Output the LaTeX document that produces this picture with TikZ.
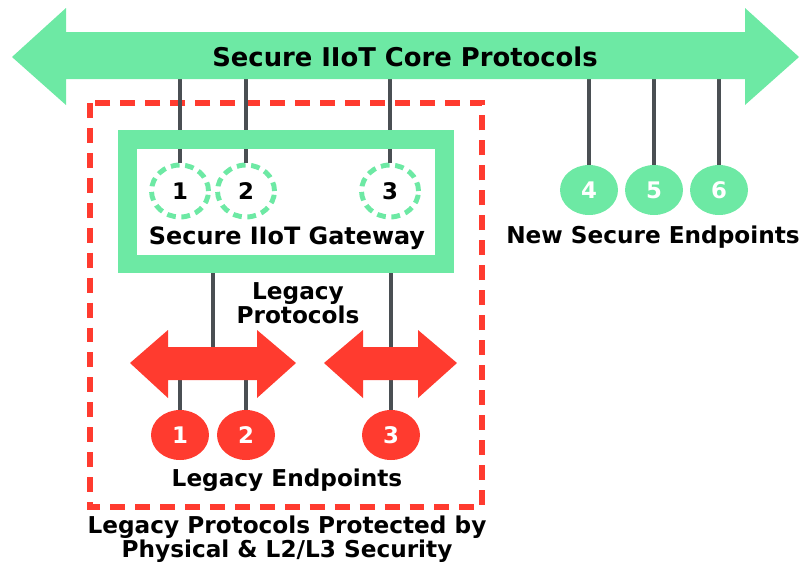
\documentclass[tikz,border=0pt]{standalone}
\usepackage{fontspec}
\setmainfont{DejaVu Sans}
\usetikzlibrary{positioning,shapes.geometric}
\definecolor{iotgreen}{HTML}{6DE9A4}
\definecolor{legred}{HTML}{FF3B2F}
\definecolor{wiregray}{HTML}{4A4F53}
\tikzset{
  lbl/.style={font=\fontsize{13.2}{12.5}\selectfont\bfseries, inner sep=0pt},
  num/.style={font=\fontsize{13}{13}\selectfont\bfseries},
  wire/.style={draw=wiregray, line width=2.3pt},
  gport/.style={num, ellipse, draw=iotgreen, line width=2.8pt,
    dash pattern=on 5pt off 3.2pt, minimum width=1.14cm, minimum height=1.04cm,
    inner sep=0pt},
  newport/.style={num, ellipse, fill=iotgreen, text=white,
    minimum width=1.16cm, minimum height=1cm, inner sep=0pt},
  oldport/.style={num, ellipse, fill=legred, text=white,
    minimum width=1.16cm, minimum height=1cm, inner sep=0pt},
  gateframe/.style={draw=iotgreen, line width=10.8pt,
    minimum width=6.36cm, minimum height=2.5cm, inner sep=0pt},
  zone/.style={draw=legred, line width=3.6pt, dash pattern=on 8.5pt off 5.7pt}
}
\begin{document}
\begin{tikzpicture}[x=0.02cm,y=-0.02cm]
\useasboundingbox (0,0) rectangle (803,565);
% shaft edges of the arrows
\coordinate (coreb) at (0,79);
\coordinate (ltop) at (0,347);
\coordinate (lbot) at (0,380);
% protected zone
\draw[zone] (90,103) rectangle (482,507);
% ports of the gateway
\node[gport] (g1) at (180,191) {1};
\node[gport] (g2) at (246,191) {2};
\node[gport] (g3) at (390,191) {3};
% new secure endpoints
\node[newport] (n4) at (589,190) {4};
\node[newport] (n5) at (654,190) {5};
\node[newport] (n6) at (719,190) {6};
% legacy endpoints
\node[oldport] (r1) at (180,435) {1};
\node[oldport] (r2) at (246,435) {2};
\node[oldport] (r3) at (391,435) {3};
\coordinate (lin) at (213,0);
% wires
\foreach \p in {g1,g2,g3,n4,n5,n6}
  \draw[wire] (\p) -- (\p |- coreb);
\foreach \p in {r1,r2}
  \draw[wire] (\p) -- (\p |- lbot);
\node[gateframe] (gw) at (286,201.5) {};
\draw[wire] (gw.south -| lin) -- (lin |- ltop);
\draw[wire] (gw.south -| r3) -- (r3);
% core protocols
\fill[iotgreen] (12,57) -- (66,8) -- (66,32) -- (745,32) -- (745,8) -- (799,57)
  -- (745,105) -- (745,79) -- (66,79) -- (66,105) -- cycle;
% legacy protocols
\fill[legred] (130,363) -- (168,330) -- (168,347) -- (257,347) -- (257,330)
  -- (296,363) -- (257,398) -- (257,380) -- (168,380) -- (168,398) -- cycle;
\fill[legred] (324,363) -- (363,330) -- (363,347) -- (418,347) -- (418,330)
  -- (457,363) -- (418,398) -- (418,380) -- (363,380) -- (363,398) -- cycle;
% labels
\node[lbl, font=\fontsize{14.7}{14}\selectfont\bfseries] (coretxt) at (405,57)
  {Secure IIoT Core Protocols};
\node[lbl, font=\fontsize{13.6}{13}\selectfont\bfseries] (gwtxt) at (287,238)
  {Secure IIoT Gateway};
\node[lbl, align=center] (legtxt) at (298,303) {Legacy\\Protocols};
\node[lbl] (oldtxt) at (287,480) {Legacy Endpoints};
\node[lbl] (newtxt) at (653,237) {New Secure Endpoints};
\node[lbl, align=center] (zonetxt) at (287,539)
  {Legacy Protocols Protected by\\Physical \& L2/L3 Security};
\end{tikzpicture}
\end{document}
